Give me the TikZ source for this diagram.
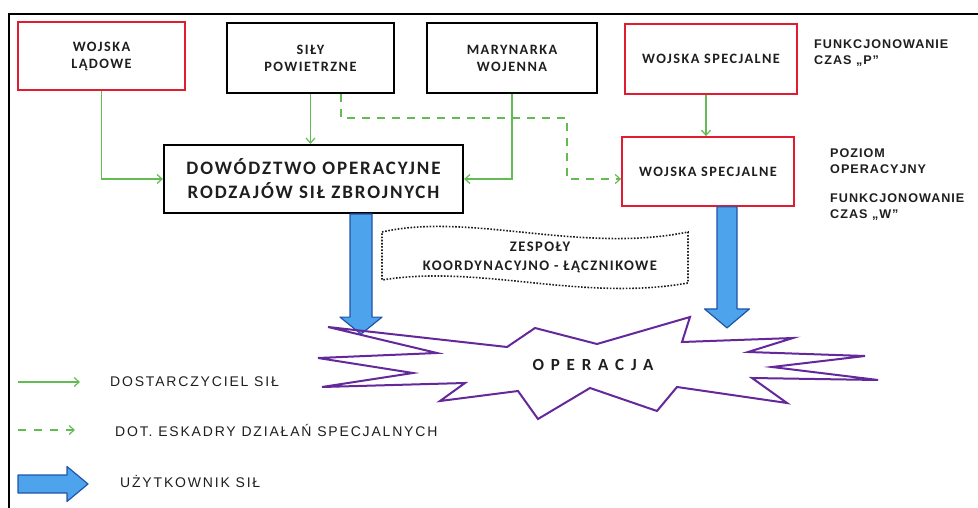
\documentclass[tikz,border=0pt]{standalone}
\usepackage{fontspec}
\newfontfamily\boxfont[LetterSpace=10]{Carlito}
\newfontfamily\labelfont[LetterSpace=13]{Liberation Sans}
\newfontfamily\sidefont[LetterSpace=8]{Liberation Sans}
\usetikzlibrary{arrows.meta}
\definecolor{boxred}{RGB}{226,28,48}
\definecolor{supplygreen}{RGB}{98,188,82}
\definecolor{starviolet}{RGB}{100,40,155}
\definecolor{userfill}{RGB}{78,164,236}
\definecolor{userline}{RGB}{32,84,168}
\definecolor{txt}{RGB}{30,30,30}
\begin{document}
\begin{tikzpicture}[x=1pt,y=-1pt,
  box/.style={draw=black,line width=2.2pt,minimum width=167pt,minimum height=69pt,align=center,text=txt,
    font=\boxfont\bfseries\fontsize{14.3}{17}\selectfont},
  redbox/.style={box,draw=boxred,line width=1.8pt},
  supply/.style={draw=supplygreen,line width=1.2pt,-{Straight Barb[length=5pt,width=9pt]}},
  special/.style={supply,dash pattern=on 8pt off 7pt},
  user/.style={draw=userline,fill=userfill,line width=1.2pt,line join=round},
  side/.style={anchor=west,align=left,inner sep=0pt,text=txt,font=\sidefont\bfseries\fontsize{12.6}{16.5}\selectfont},
  legend/.style={anchor=west,inner sep=0pt,text=txt,font=\labelfont\fontsize{14}{16}\selectfont}]
  \useasboundingbox (0,0) rectangle (978,508);
  \draw[line width=1.6pt] (9,508) -- (9,14) -- (978,14);

  % forces
  \node[redbox,minimum height=68pt] (wl) at (101.5,56) {WOJSKA\\LĄDOWE};
  \node[box,minimum height=70pt] (sp) at (310.5,58) {SIŁY\\POWIETRZNE};
  \node[box,minimum width=170pt,minimum height=70pt] (mw) at (512,58) {MARYNARKA\\WOJENNA};
  \node[redbox,minimum width=172pt,minimum height=70pt] (ws1) at (711,59) {WOJSKA SPECJALNE};
  \node[redbox,minimum width=172pt,minimum height=69pt] (ws2) at (708,171.5) {WOJSKA SPECJALNE};
  \node[box,minimum width=299pt,minimum height=68pt,font=\boxfont\bfseries\fontsize{19}{24}\selectfont] (do) at (313.5,179)
    {DOWÓDZTWO OPERACYJNE\\RODZAJÓW SIŁ ZBROJNYCH};

  \node[side] (fp) at (814,53) {FUNKCJONOWANIE\\CZAS „P”};
  \node[side] (po) at (830,161) {POZIOM\\OPERACYJNY};
  \node[side] (fw) at (830,207) {FUNKCJONOWANIE\\CZAS „W”};

  % liaison teams
  \draw[txt,line width=1.6pt,dash pattern=on 1.6pt off 1.6pt]
    (382,232) .. controls (470,212) and (580,254) .. (688,232) -- (688,283)
    .. controls (580,302) and (480,264) .. (382,280) -- cycle;
  \node[align=center,text=txt,font=\boxfont\bfseries\fontsize{14.6}{19}\selectfont] (zk) at (540,257.5)
    {ZESPOŁY\\KOORDYNACYJNO - ŁĄCZNIKOWE};

  % green connectors
  \draw[supply] (wl.south) |- (do.west);
  \draw[supply] (sp.south) -- (do.north -| sp.south);
  \draw[supply] (mw.south) |- (do.east);
  \draw[supply] ([xshift=-5pt]ws1.south) -- ([xshift=-5pt]ws1.south |- ws2.north);
  \coordinate (bend) at (567,118);
  \draw[special] ([xshift=30.5pt]sp.south) |- (bend) |- ([yshift=-7.5pt]ws2.west);

  % users
  \coordinate (u1) at ([xshift=47.5pt]do.south);
  \coordinate (u2) at ([xshift=19pt]ws2.south);
  \draw[user] (u1) ++(-11,0) -- ++(0,103) -- ++(-10,0) -- ++(21,17) -- ++(21,-17) -- ++(-10,0) -- ++(0,-103) -- cycle;
  \draw[user] (u2) ++(-10,0) -- ++(0,102) -- ++(-12.5,0) -- ++(22.5,19) -- ++(22.5,-19) -- ++(-12.5,0) -- ++(0,-102) -- cycle;

  % operation
  \draw[starviolet,line width=2pt,line join=miter] (328,327) -- (507,347) -- (535,328) -- (597,344) -- (690,317)
    -- (682,342) -- (793,338) -- (748,352) -- (865,356) -- (772,367) -- (878,380) -- (752,378) -- (787,403)
    -- (677,387) -- (657,411) -- (590,388) -- (538,419) -- (518,391) -- (440,401) -- (465,383) -- (322,387)
    -- (413,373) -- (318,358) -- (437,353) -- cycle;
  \node[text=txt,font=\boxfont\bfseries\fontsize{17}{20}\selectfont\addfontfeature{LetterSpace=40}] (op) at (593,365) {OPERACJA};

  % legend
  \node[legend] (t1) at (110,382) {DOSTARCZYCIEL SIŁ};
  \node[legend] (t2) at (115,430) {DOT. ESKADRY DZIAŁAŃ SPECJALNYCH};
  \node[legend] (t3) at (120,481) {UŻYTKOWNIK SIŁ};
  \coordinate (l1) at (18,382);
  \coordinate (l2) at (18,430);
  \coordinate (l3) at (18,484);
  \draw[supply] (l1) -- ([xshift=-30pt]t1.west);
  \draw[special,dash pattern=on 8pt off 8pt] (l2) -- ([xshift=-40pt]t2.west);
  \draw[user] (l3) ++(0,-9) -- ++(49,0) -- ++(0,-8.5) -- ++(21,17.5) -- ++(-21,17.5) -- ++(0,-8.5) -- ++(-49,0) -- cycle;
\end{tikzpicture}
\end{document}
